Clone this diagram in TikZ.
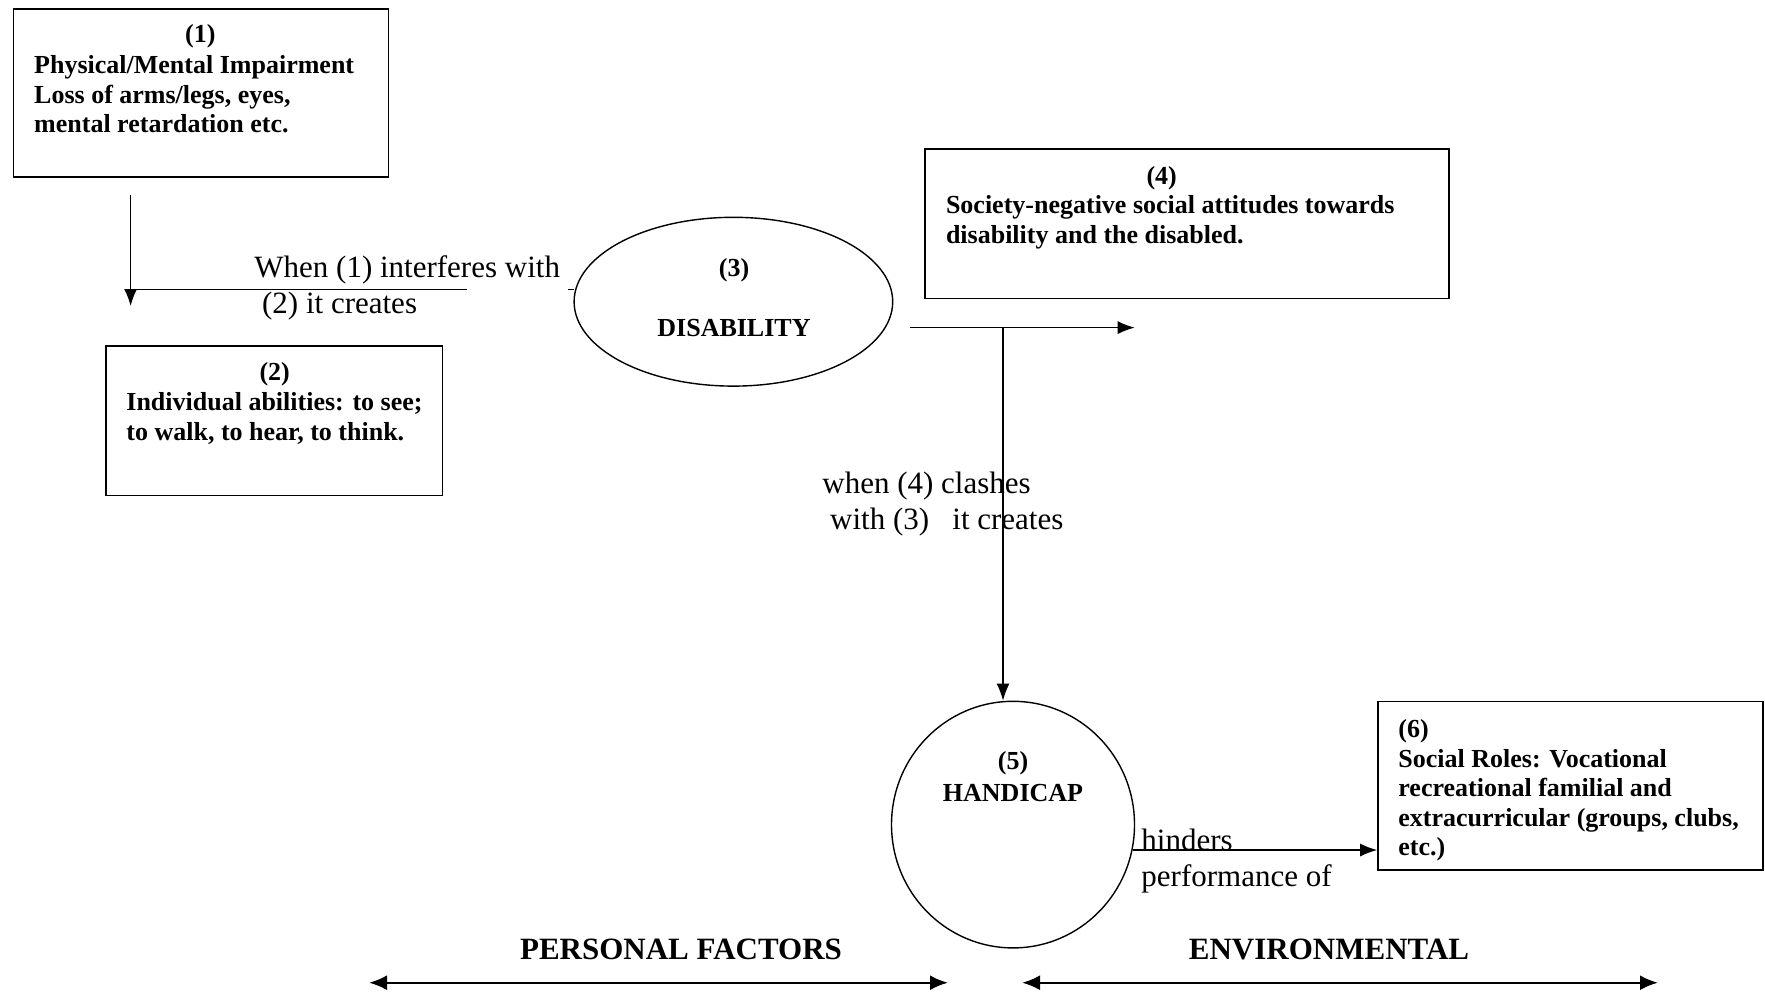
\documentclass[tikz,border=0pt]{standalone}
\usepackage{fontspec}
\setmainfont{Liberation Serif}
\usetikzlibrary{shapes.geometric,arrows.meta}
\begin{document}
\begin{tikzpicture}[x=0.5pt,y=-0.5pt]
		\tikzstyle{boite}=[draw,line width=0.8pt,inner sep=0pt]
		\tikzstyle{bulle}=[draw,ellipse,line width=0.7pt,inner sep=0pt]
		\tikzstyle{numero}=[font=\fontsize{13}{15}\selectfont\bfseries,inner sep=0pt]
		\tikzstyle{texte}=[font=\fontsize{13}{14.8}\selectfont\bfseries,align=left,anchor=north west,inner sep=0pt]
		\tikzstyle{etiquette}=[font=\fontsize{15.5}{18}\selectfont,align=left,anchor=west,inner sep=0pt]
		\tikzstyle{titre}=[font=\fontsize{15.5}{18}\selectfont\bfseries,inner sep=0pt]
		\tikzstyle{fleche}=[->,>={Latex[length=8.5pt,width=6.5pt]},line width=0.7pt]
		\tikzstyle{trait}=[line width=0.7pt]
		\tikzstyle{bidir}=[<->,>={Latex[length=9pt,width=7.5pt]},line width=1.2pt]
		\def\LigneA{289.3}
		\def\LigneB{327.6}
		\def\NiveauBas{982.7}
		\useasboundingbox (0,0) rectangle (1765,992);
		% boites et bulles
		\node[boite,minimum width=187.5pt,minimum height=83.9pt] (b1) at (201,92.9) {};
		\node[numero] (n1) at (200.4,36.3) {(1)};
		\node[texte] (t1) at (33.8,55) {Physical/Mental Impairment\\Loss of arms/legs, eyes,\\mental retardation etc.};
		\node[boite,minimum width=168.3pt,minimum height=74.8pt] (b2) at (274.1,420.5) {};
		\node[numero] (n2) at (274.7,374) {(2)};
		\node[texte] (t2) at (126,392) {Individual abilities: to see;\\to walk, to hear, to think.};
		\node[bulle,minimum width=159.3pt,minimum height=84.4pt] (e3) at (733.4,301.7) {};
		\node[numero] (n3) at (734,270) {(3)};
		\node[numero] (d3) at (734,328) {DISABILITY};
		\node[boite,minimum width=261.8pt,minimum height=74.8pt] (b4) at (1187,223.5) {};
		\node[numero] (n4) at (1161.7,178) {(4)};
		\node[texte] (t4) at (945.6,195) {Society-negative social attitudes towards\\disability and the disabled.};
		\node[bulle,minimum width=121.5pt,minimum height=123.3pt] (c5) at (1013,824.6) {};
		\node[numero] (n5) at (1013,763) {(5)};
		\node[numero] (h5) at (1013,793) {HANDICAP};
		\node[boite,minimum width=192.5pt,minimum height=84.3pt] (b6) at (1570.5,785.7) {};
		\node[texte] (t6) at (1398,719) {(6)\\Social Roles: Vocational\\recreational familial and\\extracurricular (groups, clubs,\\etc.)};
		% etiquettes
		\node[etiquette] (l1) at (254,288) {When (1) interferes with\\\ (2) it creates};
		\node[etiquette] (l2) at (822,504) {when (4) clashes\\\ with (3)\ \ \ it creates};
		\node[etiquette] (l3) at (1141,861) {hinders\\performance of};
		\node[titre] (pf) at (681,949) {PERSONAL FACTORS};
		\node[titre] (env) at (1329,949) {ENVIRONMENTAL};
		% fleches
		\coordinate (a1) at (130.6,194.7);
		\coordinate (a1b) at (130.6,306);
		\coordinate (a1c) at (467,\LigneA);
		\coordinate (k) at (574,\LigneA);
		\draw[fleche] (a1)--(a1b);
		\draw[trait] (a1 |- a1c)--(a1c);
		\draw[trait] (k)--++(-6,0);
		\coordinate (a2) at (909.6,\LigneB);
		\coordinate (a2b) at (1134.7,\LigneB);
		\coordinate (v) at (1003,\LigneB);
		\draw[fleche] (a2)--(a2b);
		\draw[fleche] (v)--(v |- c5.north);
		\draw[fleche] (c5.-12)--(c5.-12 -| b6.west);
		\coordinate (g1) at (369,\NiveauBas);
		\coordinate (g2) at (948,\NiveauBas);
		\coordinate (d1) at (1022,\NiveauBas);
		\coordinate (d2) at (1658,\NiveauBas);
		\draw[bidir] (g1)--(g2);
		\draw[bidir] (d1)--(d2);
	\end{tikzpicture}
\end{document}
